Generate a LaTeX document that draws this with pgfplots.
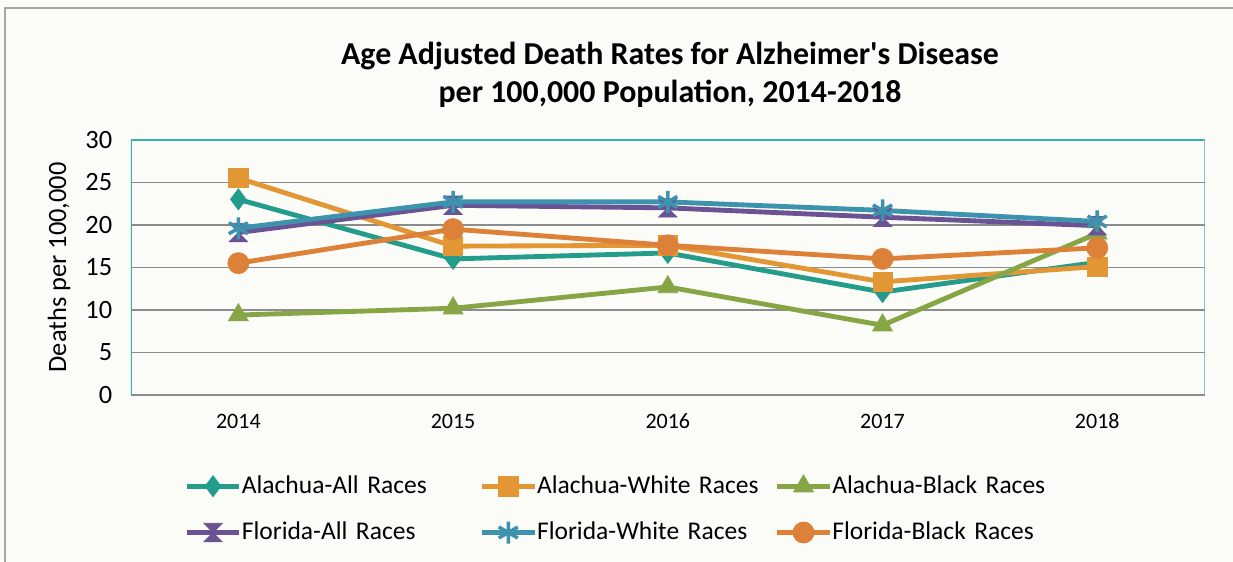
\documentclass[border=0pt]{standalone}
\usepackage{pgfplots}
\pgfplotsset{compat=1.18}
\usepackage{fontspec}
\setmainfont{Carlito}
\newfontfamily\titlefont{Carlito}[Ligatures=TeXOff]
\definecolor{bgc}{HTML}{FBFBF7}
\definecolor{cAA}{HTML}{249C8C}
\definecolor{cAW}{HTML}{E29634}
\definecolor{cAB}{HTML}{86A646}
\definecolor{cFA}{HTML}{6B5294}
\definecolor{cFW}{HTML}{3D93AE}
\definecolor{cFB}{HTML}{DD8038}
\definecolor{frameteal}{HTML}{3AB0A2}
\definecolor{gridg}{HTML}{8C8C8C}
\pgfdeclareplotmark{hourglass}{%
  \pgfpathmoveto{\pgfqpoint{-\pgfplotmarksize}{\pgfplotmarksize}}%
  \pgfpathlineto{\pgfqpoint{\pgfplotmarksize}{\pgfplotmarksize}}%
  \pgfpathlineto{\pgfqpoint{-\pgfplotmarksize}{-\pgfplotmarksize}}%
  \pgfpathlineto{\pgfqpoint{\pgfplotmarksize}{-\pgfplotmarksize}}%
  \pgfpathclose
  \pgfusepathqfillstroke
}
\pgfplotstableread{
x AA AW AB FA FW FB
0 23.0 25.5 9.4 19.1 19.6 15.5
1 16.0 17.5 10.2 22.3 22.7 19.5
2 16.7 17.6 12.7 22.0 22.7 17.6
3 12.1 13.3 8.2 20.9 21.7 16.0
4 15.6 15.1 19.0 19.9 20.4 17.3
}\datatable
\begin{document}
\begin{tikzpicture}
% bounding box: 1233x561 px at 2.2 px/pt, axis origin at px (131,395)
\path[use as bounding box, fill=bgc] (-59.545pt,-75.455pt) rectangle (500.909pt,179.545pt);
\draw[gray!70, line width=0.7pt] (-57.27pt,-80pt) -- (-57.27pt,175.9pt) -- (510pt,175.9pt);
\node[font=\titlefont\bfseries\fontsize{14.5}{17.4}\selectfont, align=center] at (245pt,145.4pt)
  {Age Adjusted Death Rates for Alzheimer's Disease\\per 100,000 Population, 2014-2018};
\begin{axis}[
  at={(0,0)}, anchor=south west,
  scale only axis, width=488pt, height=116pt,
  xmin=-0.5, xmax=4.5, ymin=0, ymax=30,
  xtick={0,1,2,3,4}, xticklabels={2014,2015,2016,2017,2018},
  ytick={0,5,...,30},
  tick style={draw=none},
  ymajorgrids, grid style={gridg, line width=0.6pt},
  axis line style={draw=none},
  axis background/.style={fill=bgc},
  xticklabel style={font=\fontsize{10}{12}\selectfont, yshift=-5pt},
  yticklabel style={font=\fontsize{12}{14}\selectfont, xshift=-5pt},
  /pgf/number format/assume math mode=true,
  ylabel={Deaths per 100,000},
  ylabel style={font=\fontsize{12}{14}\selectfont, yshift=0pt},
  every axis plot/.append style={line width=2.2pt},
  legend columns=3,
  legend style={draw=none, fill=none, at={(0.043,-0.28)}, anchor=north west,
    font=\fontsize{11.6}{14}\selectfont,
    nodes={text width=107pt, align=left, inner xsep=1pt},
    /tikz/every odd column/.append style={column sep=-1pt},
    row sep=7.5pt},
  legend image code/.code={
    \draw[#1, mark repeat=2, mark phase=2] plot coordinates {(0pt,0pt) (12pt,0pt) (24pt,0pt)};
  },
]
\draw[frameteal, line width=0.8pt] (rel axis cs:0,0) -- (rel axis cs:0,1) -- (rel axis cs:1,1) -- (rel axis cs:1,0);
\draw[gridg, line width=0.8pt] (rel axis cs:0,0) -- (rel axis cs:1,0);
\addplot[cAA, mark=diamond*, mark size=4.8pt, mark options={fill=cAA, draw=cAA, line width=0.3pt}] table[x=x, y=AA] {\datatable};
\addlegendentry{Alachua-All Races}
\addplot[cAW, mark=square*, mark size=4.4pt, mark options={fill=cAW, draw=cAW, line width=0.3pt}] table[x=x, y=AW] {\datatable};
\addlegendentry{Alachua-White Races}
\addplot[cAB, mark=triangle*, mark size=5.2pt, mark options={fill=cAB, draw=cAB, line width=0.3pt}] table[x=x, y=AB] {\datatable};
\addlegendentry{Alachua-Black Races}
\addplot[cFA, mark=hourglass, mark size=4.2pt, mark options={fill=cFA, draw=cFA, line width=0.3pt}] table[x=x, y=FA] {\datatable};
\addlegendentry{Florida-All Races}
\addplot[cFW, mark=asterisk, mark size=5pt, mark options={draw=cFW, line width=1.6pt}] table[x=x, y=FW] {\datatable};
\addlegendentry{Florida-White Races}
\addplot[cFB, mark=*, mark size=4.8pt, mark options={fill=cFB, draw=cFB, line width=0.3pt}] table[x=x, y=FB] {\datatable};
\addlegendentry{Florida-Black Races}
\end{axis}
\end{tikzpicture}
\end{document}
